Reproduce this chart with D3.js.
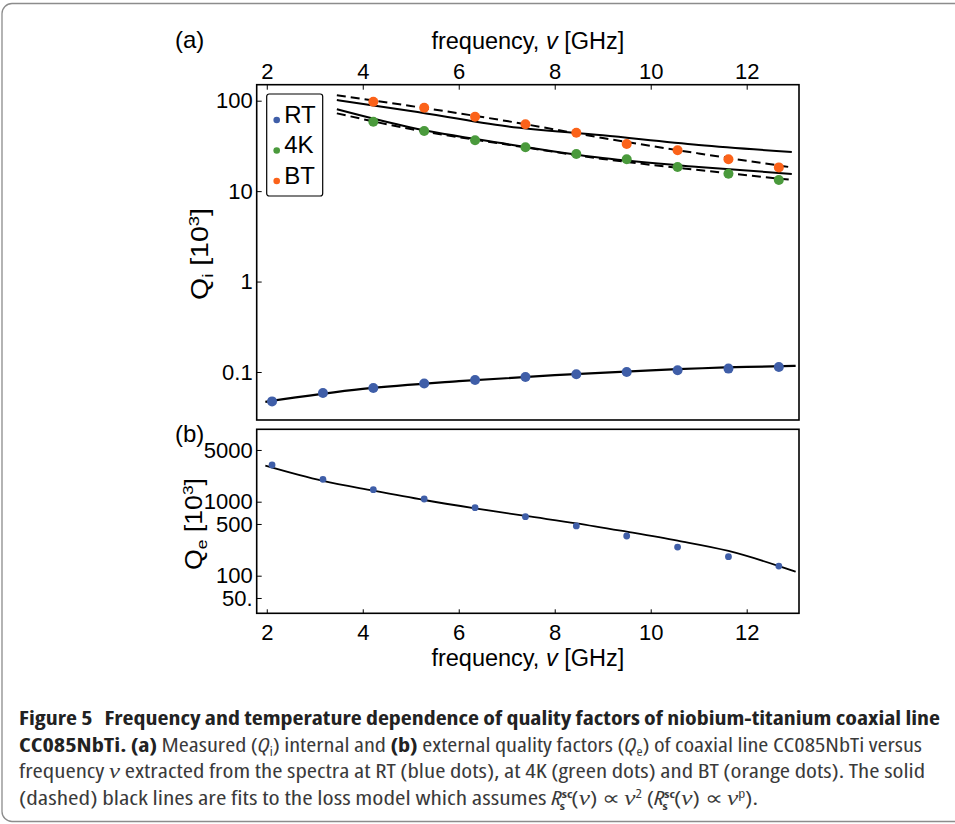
<!DOCTYPE html>
<html>
<head>
<meta charset="utf-8">
<script src="https://cdn.jsdelivr.net/npm/d3@7"></script>
<style>
  body { margin: 0; background: #fff; }
  svg { display: block; }
  .chart text { font-family: "Liberation Sans", Arial, sans-serif; fill: #000; }
  .cap { font-family: "Open Sans", "Noto Sans", sans-serif; font-stretch: 75%; font-size: 20px; fill: #3a3a3a; }
  .cap .b { font-weight: 700; fill: #222; }
  .cap .nu { font-family: "Liberation Serif", serif; font-style: italic; font-stretch: normal; }
</style>
</head>
<body>
<svg id="fig" width="955" height="824"></svg>
<script>
// measured resonances (GHz)
var freq = [2.11, 3.17, 4.22, 5.28, 6.34, 7.39, 8.45, 9.50, 10.56, 11.62, 12.67];
// internal Q, 10^3
var qiRT = [0.0473, 0.0586, 0.0665, 0.0745, 0.0816, 0.0881, 0.0942, 0.100, 0.1045, 0.109, 0.1137];
var qi4K = [58.6, 46.2, 36.5, 30.5, 25.7, 22.5, 18.5, 15.6, 13.3];   // from 4.22 GHz on
var qiBT = [97.5, 83.7, 66.5, 54.8, 44.3, 33.2, 28.3, 22.5, 18.3];   // from 4.22 GHz on
// external Q, 10^3
var qe = [3133, 2007, 1453, 1088, 830, 627, 470, 344, 244, 181, 135];

// fit curves
var fitFreq = [3.46, 5, 7, 9, 11, 12.94];
var fitBTdash = [114.7, 87.4, 59.6, 38.7, 26.1, 18.3];
var fitBTsolid = [101.8, 76.9, 52.1, 41.4, 32.4, 27.1];
var fit4Ksolid = [80.3, 50.5, 33.2, 23.2, 18.5, 15.5];
var fit4Kdash = [72.5, 48.6, 32.8, 22.7, 17.1, 13.3];
var rtFitFreq = [1.97, 4, 6, 8, 10, 12, 13.02];
var rtFit = [0.0468, 0.0649, 0.0791, 0.0922, 0.1044, 0.1139, 0.1168];
var qeFitFreq = [1.97, 3.17, 4.22, 5.28, 6.34, 7.39, 8.45, 9.50, 10.56, 11.62, 12.67, 13.02];
var qeFit = [3066, 1905, 1408, 1054, 814, 641, 511, 393, 297, 216, 135, 113];

// ticks
var xTicks = [2, 4, 6, 8, 10, 12];
var qiTicks = [0.1, 1, 10, 100];
var qiTickLabels = ["0.1", "1", "10", "100"];
var qeTicks = [50, 100, 500, 1000, 5000];
var qeTickLabels = ["50.", "100", "500", "1000", "5000"];
var legendKeys = ["RT", "4K", "BT"];

var colors = { RT: "#3f5ea8", "4K": "#4a9a3c", BT: "#fb6219" };

var svg = d3.select("#fig");

// figure border
svg.append("rect")
    .attr("x", 2).attr("y", 3.5)
    .attr("width", 1000).attr("height", 818)
    .attr("rx", 10)
    .attr("fill", "none").attr("stroke", "#8c8c8c").attr("stroke-width", 1.3);

var chart = svg.append("g").attr("class", "chart");

var pa = {left: 256.7, right: 799, top: 84.7, bottom: 420},
    pb = {left: 256.7, right: 799, top: 429.3, bottom: 613.3};

var x = d3.scaleLinear().domain([1.79, 13.09]).range([pa.left, pa.right]);
var yA = d3.scaleLog().domain([0.02945, 150.3]).range([pa.bottom, pa.top]);
var yB = d3.scaleLog().domain([31.04, 9508]).range([pb.bottom, pb.top]);

function styleAxis(g, size) {
  g.select(".domain").remove();
  g.selectAll(".tick line").attr("stroke", "#000").attr("stroke-width", 1);
  g.selectAll(".tick text").attr("font-size", size).attr("font-family", null);
}

// ---- panel (a)
chart.append("g")
    .attr("transform", "translate(0," + pa.top + ")")
    .call(d3.axisTop(x).tickValues(xTicks).tickSize(-5).tickPadding(6))
    .call(styleAxis, 22);

chart.append("g")
    .attr("transform", "translate(" + pa.left + ",0)")
    .call(d3.axisLeft(yA).tickValues(qiTicks).tickSize(-5).tickPadding(4)
      .tickFormat(function(d, i) { return qiTickLabels[i]; }))
    .call(styleAxis, 22);

function lineA(xs, ys) {
  return d3.line()
      .x(function(d, i) { return x(xs[i]); })
      .y(function(d) { return yA(d); })
      .curve(d3.curveMonotoneX)(ys);
}

var fitsA = [
  {v: fitBTdash, dash: "9,5"},
  {v: fitBTsolid, dash: null},
  {v: fit4Ksolid, dash: null},
  {v: fit4Kdash, dash: "9,5"}
];
chart.append("g").selectAll("path")
  .data(fitsA)
  .enter().append("path")
    .attr("d", function(d) { return lineA(fitFreq, d.v); })
    .attr("fill", "none").attr("stroke", "#000").attr("stroke-width", 2)
    .attr("stroke-dasharray", function(d) { return d.dash; });

chart.append("path")
    .attr("d", lineA(rtFitFreq, rtFit))
    .attr("fill", "none").attr("stroke", "#000").attr("stroke-width", 2.2);

var seriesA = [
  {key: "RT", f: freq, v: qiRT},
  {key: "4K", f: freq.slice(2), v: qi4K},
  {key: "BT", f: freq.slice(2), v: qiBT}
];
seriesA.forEach(function(s) {
  chart.append("g").selectAll("circle")
    .data(s.v)
    .enter().append("circle")
      .attr("cx", function(d, i) { return x(s.f[i]); })
      .attr("cy", function(d) { return yA(d); })
      .attr("r", 5)
      .attr("fill", colors[s.key]);
});

chart.append("rect")
    .attr("x", pa.left).attr("y", pa.top)
    .attr("width", pa.right - pa.left).attr("height", pa.bottom - pa.top)
    .attr("fill", "none").attr("stroke", "#000").attr("stroke-width", 1.6);

// legend
var legend = chart.append("g").attr("transform", "translate(266.7,94)");
legend.append("rect")
    .attr("width", 56).attr("height", 102).attr("rx", 2.5)
    .attr("fill", "#fff").attr("stroke", "#000").attr("stroke-width", 1.2);
var item = legend.selectAll("g.item")
  .data(legendKeys)
  .enter().append("g")
    .attr("class", "item")
    .attr("transform", function(d, i) { return "translate(0," + (26 + i * 30.5) + ")"; });
item.append("circle").attr("cx", 10).attr("cy", 0).attr("r", 3.3)
    .attr("fill", function(d) { return colors[d]; });
item.append("text").attr("x", 17.5).attr("y", 2.5)
    .attr("font-size", 24)
    .text(function(d) { return d; });

// labels (a)
chart.append("text").attr("x", 175).attr("y", 48).attr("font-size", 24).text("(a)");

function freqTitle(y) {
  var t = chart.append("text")
      .attr("x", (pa.left + pa.right) / 2).attr("y", y)
      .attr("text-anchor", "middle").attr("font-size", 23.5);
  t.append("tspan").text("frequency, ");
  t.append("tspan").attr("font-style", "italic").text("v");
  t.append("tspan").text(" [GHz]");
}
freqTitle(49);

function qLabel(sub, cx, cy) {
  var t = chart.append("text")
      .attr("transform", "translate(" + cx + "," + cy + ") rotate(-90)")
      .attr("text-anchor", "middle").attr("font-size", 23)
      .attr("textLength", 92).attr("lengthAdjust", "spacingAndGlyphs");
  t.append("tspan").text("Q");
  t.append("tspan").attr("font-size", 15).attr("dy", 5).text(sub);
  t.append("tspan").attr("dy", -5).text("  [10");
  t.append("tspan").attr("font-size", 15).attr("dy", -9).text("3");
  t.append("tspan").attr("dy", 9).text("]");
}
qLabel("i", 208, 254);

// ---- panel (b)
chart.append("g")
    .attr("transform", "translate(0," + pb.bottom + ")")
    .call(d3.axisBottom(x).tickValues(xTicks).tickSize(-4).tickPadding(11))
    .call(styleAxis, 22);

chart.append("g")
    .attr("transform", "translate(" + pb.left + ",0)")
    .call(d3.axisLeft(yB).tickValues(qeTicks).tickSize(-5).tickPadding(4)
      .tickFormat(function(d, i) { return qeTickLabels[i]; }))
    .call(styleAxis, 22);

chart.append("path")
    .attr("d", d3.line()
      .x(function(d, i) { return x(qeFitFreq[i]); })
      .y(function(d) { return yB(d); })
      .curve(d3.curveMonotoneX)(qeFit))
    .attr("fill", "none").attr("stroke", "#000").attr("stroke-width", 1.8);

chart.append("g").selectAll("circle")
  .data(qe)
  .enter().append("circle")
    .attr("cx", function(d, i) { return x(freq[i]); })
    .attr("cy", function(d) { return yB(d); })
    .attr("r", 3.4)
    .attr("fill", colors.RT);

chart.append("rect")
    .attr("x", pb.left).attr("y", pb.top)
    .attr("width", pb.right - pb.left).attr("height", pb.bottom - pb.top)
    .attr("fill", "none").attr("stroke", "#000").attr("stroke-width", 1.6);

chart.append("text").attr("x", 175).attr("y", 442).attr("font-size", 24).text("(b)");
qLabel("e", 202, 524);
freqTitle(666);

// ---- caption
var cap = svg.append("g").attr("class", "cap");

var l1 = cap.append("text").attr("x", 19).attr("y", 725)
    .attr("textLength", 921).attr("lengthAdjust", "spacingAndGlyphs");
l1.append("tspan").attr("class", "b")
  .text("Figure 5\u2002Frequency and temperature dependence of quality factors of niobium-titanium coaxial line");

var l2 = cap.append("text").attr("x", 19).attr("y", 752)
    .attr("textLength", 903).attr("lengthAdjust", "spacingAndGlyphs");
l2.append("tspan").attr("class", "b").text("CC085NbTi. (a)");
l2.append("tspan").text(" Measured (");
l2.append("tspan").attr("font-style", "italic").text("Q");
l2.append("tspan").attr("font-size", 12).attr("dy", 4).text("i");
l2.append("tspan").attr("dy", -4).text(") internal and ");
l2.append("tspan").attr("class", "b").text("(b)");
l2.append("tspan").text(" external quality factors (");
l2.append("tspan").attr("font-style", "italic").text("Q");
l2.append("tspan").attr("font-size", 12).attr("dy", 4).text("e");
l2.append("tspan").attr("dy", -4).text(") of coaxial line CC085NbTi versus");

var l3 = cap.append("text").attr("x", 19).attr("y", 778)
    .attr("textLength", 906).attr("lengthAdjust", "spacingAndGlyphs");
l3.append("tspan").text("frequency ");
l3.append("tspan").attr("class", "nu").text("\u03bd");
l3.append("tspan").text(" extracted from the spectra at RT (blue dots), at 4K (green dots) and BT (orange dots). The solid");

var l4 = cap.append("text").attr("x", 19).attr("y", 805)
    .attr("textLength", 739).attr("lengthAdjust", "spacingAndGlyphs");
function rs(t) {
  t.append("tspan").attr("font-style", "italic").text("R");
  t.append("tspan").attr("font-size", 11).attr("font-weight", 700).attr("dy", -7).text("sc");
  t.append("tspan").attr("font-size", 11).attr("font-weight", 700).attr("dx", -10).attr("dy", 12).text("s");
  t.append("tspan").attr("dx", 5).attr("dy", -5).text("(");
  t.append("tspan").attr("class", "nu").text("\u03bd");
  t.append("tspan").text(") \u221d ");
  t.append("tspan").attr("class", "nu").text("\u03bd");
}
l4.append("tspan").text("(dashed) black lines are fits to the loss model which assumes ");
rs(l4);
l4.append("tspan").attr("font-size", 12).attr("dy", -7).text("2");
l4.append("tspan").attr("dy", 7).text(" (");
rs(l4);
l4.append("tspan").attr("font-size", 12).attr("dy", -7).text("p");
l4.append("tspan").attr("dy", 7).text(").");
</script>
</body>
</html>
